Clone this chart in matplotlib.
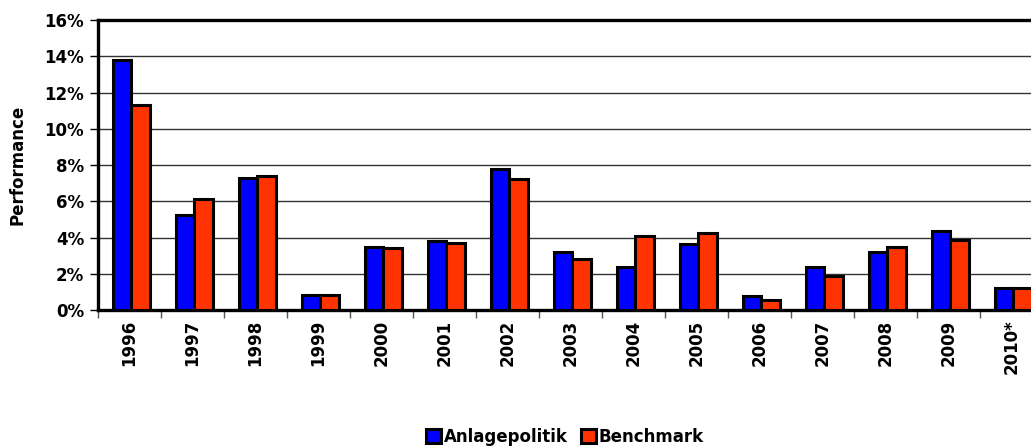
import matplotlib
matplotlib.use("Agg")
import matplotlib.pyplot as plt
import numpy as np
from matplotlib.ticker import FuncFormatter, FixedLocator

years = ["1996", "1997", "1998", "1999", "2000", "2001", "2002", "2003",
         "2004", "2005", "2006", "2007", "2008", "2009", "2010*"]
anlagepolitik = [13.8, 5.25, 7.3, 0.85, 3.5, 3.8, 7.8, 3.2, 2.4, 3.65, 0.75, 2.35, 3.2, 4.35, 1.2]
benchmark = [11.3, 6.1, 7.4, 0.85, 3.4, 3.7, 7.25, 2.8, 4.1, 4.25, 0.55, 1.9, 3.5, 3.85, 1.2]
yticks = [0, 2, 4, 6, 8, 10, 12, 14, 16]

plt.rcParams['font.family'] = ['DejaVu Sans']
fig = plt.figure(figsize=(10.31, 4.47), dpi=100)
ax = fig.add_axes([98/1031, 1-310/447, 945/1031, 290/447])

x = np.arange(len(years))
w = 0.29
ax.bar(x - w/2 + 0.03, anlagepolitik, w, color='#0000FF', edgecolor='black', linewidth=2.2,
       label='Anlagepolitik', zorder=3)
ax.bar(x + w/2 + 0.03, benchmark, w, color='#FF3300', edgecolor='black', linewidth=2.2,
       label='Benchmark', zorder=3)

ax.set_xlim(-0.5, len(years) - 0.5)
ax.set_ylim(0, 16)
ax.set_yticks(yticks)
ax.yaxis.set_major_formatter(FuncFormatter(lambda v, p: f"{int(v)}%"))
ax.yaxis.grid(True, color='#333333', linewidth=1.0, zorder=0)
ax.set_axisbelow(True)

ax.set_xticks(x)
ax.set_xticklabels(years, rotation=90, fontsize=12, fontweight='bold')
ax.xaxis.set_minor_locator(FixedLocator(np.arange(-0.5, len(years), 1)))
ax.tick_params(axis='x', which='major', length=0, pad=7)
ax.tick_params(axis='x', which='minor', length=6, width=1, color='#555555', direction='out')
ax.tick_params(axis='y', length=6, width=1, direction='out', labelsize=12, pad=4)
for lbl in ax.get_yticklabels():
    lbl.set_fontweight('bold')

for side in ['left', 'bottom', 'top']:
    ax.spines[side].set_linewidth(2.4)
    ax.spines[side].set_color('black')
ax.spines['right'].set_visible(False)

fig.text(18/1031, 1-165/447, "Performance", rotation=90, ha='center', va='center',
         fontsize=12, fontweight='bold')

leg = fig.legend(loc='center', bbox_to_anchor=(565/1031, 1-437/447), ncol=2, frameon=False,
                 prop={'weight': 'bold', 'size': 12}, handlelength=0.9, handleheight=0.9,
                 handletextpad=0.15, columnspacing=0.8)

fig.savefig("out.png", dpi=100)
